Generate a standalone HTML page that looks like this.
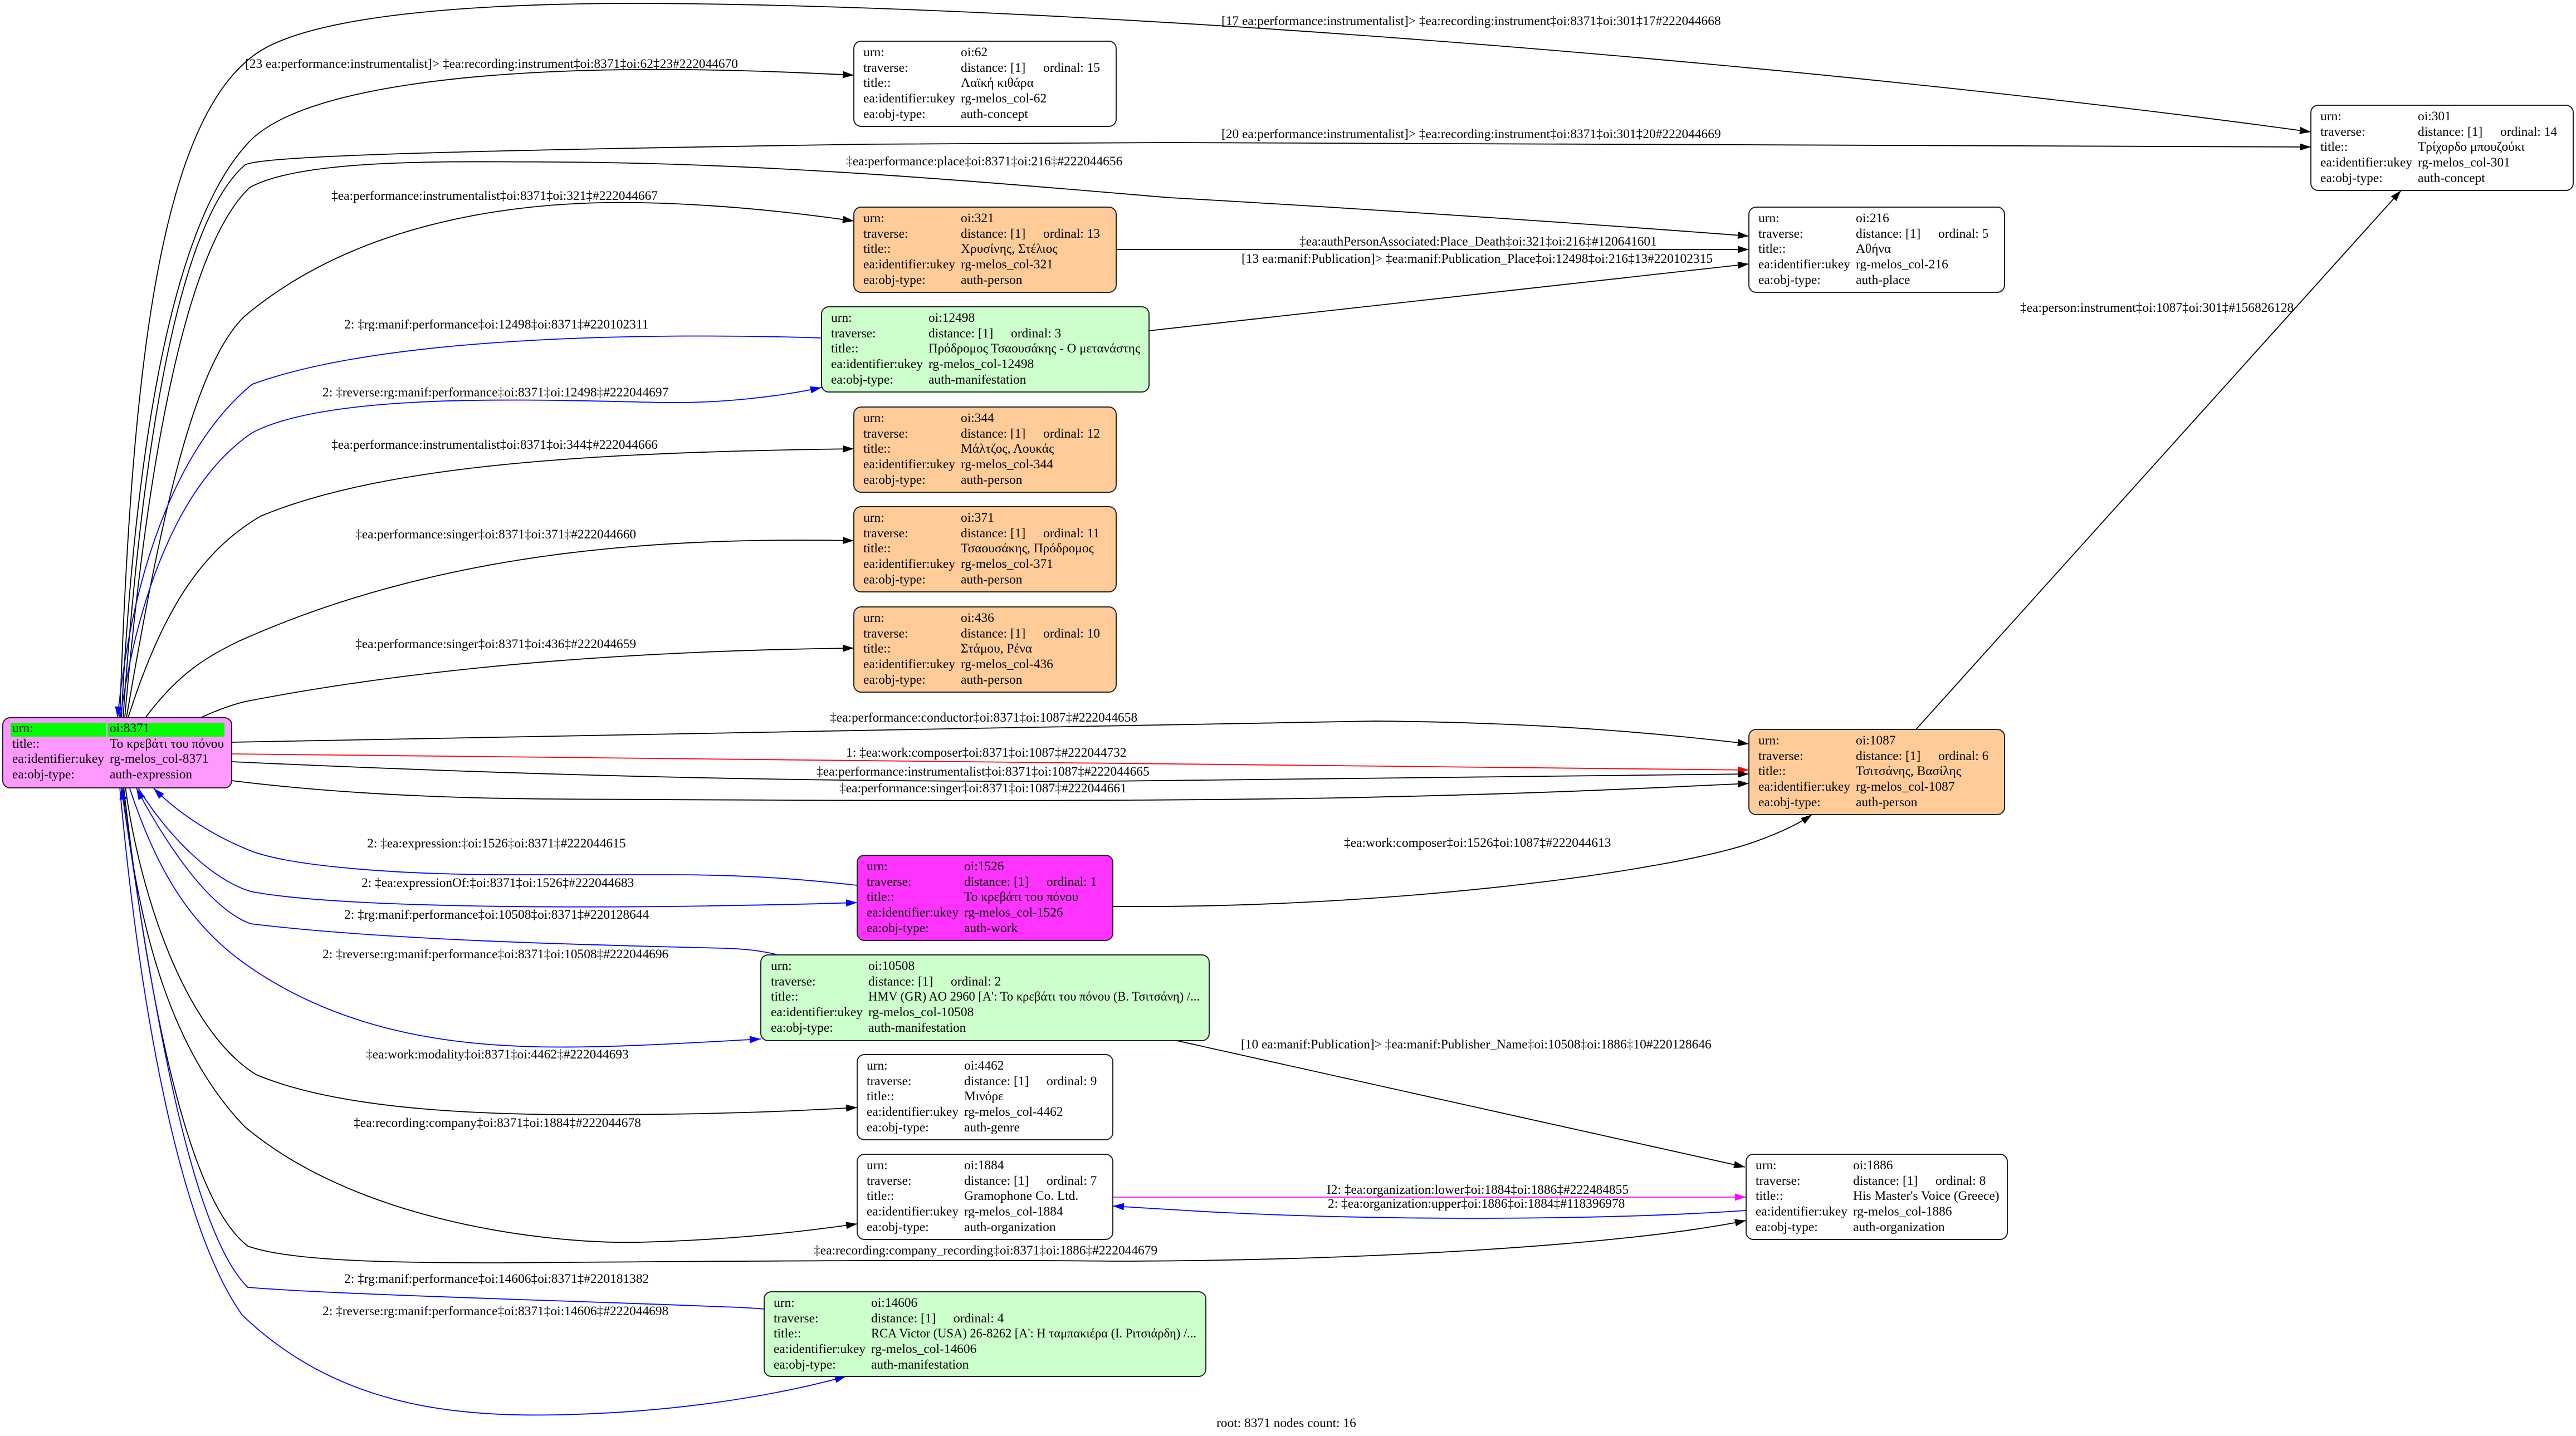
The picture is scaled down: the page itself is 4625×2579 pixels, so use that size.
<!DOCTYPE html>
<html>
<head>
<meta charset="utf-8">
<style>
html,body{margin:0;padding:0;background:#fff;}
svg{display:block;}
text{font-family:"Liberation Serif","DejaVu Serif",serif;font-size:23.4px;fill:#000;}
.e{fill:none;stroke-width:1.8;}
.k{stroke:#000;}
.b{stroke:#0000ff;}
.r{stroke:#ff0000;}
.m{stroke:#ff00ff;}
.n{stroke:#222;stroke-width:2;}
</style>
</head>
<body>
<svg width="4625" height="2579" viewBox="0 0 4625 2579" xmlns="http://www.w3.org/2000/svg">
<defs>
<marker id="ak" viewBox="0 0 20 13" refX="20" refY="6.5" markerWidth="20" markerHeight="13" markerUnits="userSpaceOnUse" orient="auto"><path d="M0,0 L20,6.5 L0,13 z" fill="#000"/></marker>
<marker id="ab" viewBox="0 0 20 13" refX="20" refY="6.5" markerWidth="20" markerHeight="13" markerUnits="userSpaceOnUse" orient="auto"><path d="M0,0 L20,6.5 L0,13 z" fill="#0000ff"/></marker>
<marker id="ar" viewBox="0 0 20 13" refX="20" refY="6.5" markerWidth="20" markerHeight="13" markerUnits="userSpaceOnUse" orient="auto"><path d="M0,0 L20,6.5 L0,13 z" fill="#ff0000"/></marker>
<marker id="am" viewBox="0 0 20 13" refX="20" refY="6.5" markerWidth="20" markerHeight="13" markerUnits="userSpaceOnUse" orient="auto"><path d="M0,0 L20,6.5 L0,13 z" fill="#ff00ff"/></marker>
</defs>
<rect x="0" y="0" width="4625" height="2579" fill="#fff"/>

<!-- ============ EDGES ============ -->
<path class="e k" marker-end="url(#ak)" d="M215 1289 C235 700, 280 230, 455 100 C560 20, 900 6, 1150 6 C2000 10, 3300 120, 4149 237"/>
<text x="2193" y="45">[17 ea:performance:instrumentalist]&gt; ‡ea:recording:instrument‡oi:8371‡oi:301‡17#222044668</text>
<path class="e k" marker-end="url(#ak)" d="M218 1289 C245 750, 320 380, 453 249 C560 150, 900 126, 1150 125 C1300 124, 1430 130, 1533 135"/>
<text x="440" y="122">[23 ea:performance:instrumentalist]&gt; ‡ea:recording:instrument‡oi:8371‡oi:62‡23#222044670</text>
<path class="e k" marker-end="url(#ak)" d="M221 1289 C255 800, 320 400, 440 296 C470 282, 700 272, 1560 259 L2100 256 L4149 264"/>
<text x="2193" y="248">[20 ea:performance:instrumentalist]&gt; ‡ea:recording:instrument‡oi:8371‡oi:301‡20#222044669</text>
<path class="e k" marker-end="url(#ak)" d="M224 1289 C262 850, 330 450, 448 337 C540 285, 800 290, 1000 291 C1400 293, 1800 330, 2100 355 C2400 372, 2800 398, 3140 424"/>
<text x="1519" y="297">‡ea:performance:place‡oi:8371‡oi:216‡#222044656</text>
<path class="e k" marker-end="url(#ak)" d="M227 1289 C285 950, 345 660, 438 569 C650 390, 950 360, 1150 364 C1300 367, 1430 382, 1533 397"/>
<text x="595" y="359">‡ea:performance:instrumentalist‡oi:8371‡oi:321‡#222044667</text>
<path class="e k" marker-end="url(#ak)" d="M2004 448 L3140 448"/>
<text x="2333" y="441">‡ea:authPersonAssociated:Place_Death‡oi:321‡oi:216‡#120641601</text>
<path class="e k" marker-end="url(#ak)" d="M2063 594 L3140 474"/>
<text x="2229" y="472">[13 ea:manif:Publication]&gt; ‡ea:manif:Publication_Place‡oi:12498‡oi:216‡13#220102315</text>
<path class="e b" marker-end="url(#ab)" d="M1475 607 C1200 598, 700 600, 453 690 C330 790, 240 1000, 211 1289"/>
<text x="618" y="590">2: ‡rg:manif:performance‡oi:12498‡oi:8371‡#220102311</text>
<path class="e b" marker-end="url(#ab)" d="M216 1289 C250 1050, 330 860, 453 777 C600 700, 1000 720, 1200 723 C1300 724, 1400 712, 1475 696"/>
<text x="579" y="712">2: ‡reverse:rg:manif:performance‡oi:8371‡oi:12498‡#222044697</text>
<path class="e k" marker-end="url(#ak)" d="M230 1289 C290 1100, 360 990, 468 927 C700 830, 1100 812, 1533 806"/>
<text x="595" y="806">‡ea:performance:instrumentalist‡oi:8371‡oi:344‡#222044666</text>
<path class="e k" marker-end="url(#ak)" d="M261 1289 C320 1210, 370 1180, 430 1151 C800 985, 1200 965, 1533 971"/>
<text x="638" y="967">‡ea:performance:singer‡oi:8371‡oi:371‡#222044660</text>
<path class="e k" marker-end="url(#ak)" d="M358 1290 C390 1275, 420 1265, 440 1260 C800 1190, 1200 1168, 1533 1164"/>
<text x="638" y="1164">‡ea:performance:singer‡oi:8371‡oi:436‡#222044659</text>
<path class="e k" marker-end="url(#ak)" d="M416 1333 C1000 1325, 1800 1305, 2470 1295 C2800 1298, 3000 1320, 3140 1336"/>
<text x="1490" y="1296">‡ea:performance:conductor‡oi:8371‡oi:1087‡#222044658</text>
<path class="e r" marker-end="url(#ar)" d="M416 1354 L3140 1383"/>
<text x="1519" y="1359">1: ‡ea:work:composer‡oi:8371‡oi:1087‡#222044732</text>
<path class="e k" marker-end="url(#ak)" d="M416 1368 C1000 1395, 1500 1405, 1990 1403 C2500 1400, 2900 1393, 3140 1390"/>
<text x="1466" y="1393">‡ea:performance:instrumentalist‡oi:8371‡oi:1087‡#222044665</text>
<path class="e k" marker-end="url(#ak)" d="M416 1402 C600 1425, 800 1434, 1000 1435 C1500 1438, 2000 1440, 2400 1433 C2800 1425, 3000 1413, 3140 1407"/>
<text x="1507" y="1423">‡ea:performance:singer‡oi:8371‡oi:1087‡#222044661</text>
<path class="e k" marker-end="url(#ak)" d="M3440 1310 L4311 342"/>
<text x="3627" y="560">‡ea:person:instrument‡oi:1087‡oi:301‡#156826128</text>
<path class="e k" marker-end="url(#ak)" d="M1998 1628 C2500 1632, 3000 1565, 3150 1512 C3200 1494, 3232 1478, 3253 1463"/>
<text x="2413" y="1521">‡ea:work:composer‡oi:1526‡oi:1087‡#222044613</text>
<path class="e b" marker-end="url(#ab)" d="M1539 1590 C1450 1580, 1350 1571, 1200 1571 L900 1571 C700 1570, 520 1555, 450 1528 C380 1500, 320 1460, 276 1416"/>
<text x="659" y="1522">2: ‡ea:expression:‡oi:1526‡oi:8371‡#222044615</text>
<path class="e b" marker-end="url(#ab)" d="M248 1415 C300 1500, 380 1580, 450 1601 C600 1630, 1000 1630, 1200 1628 C1350 1626, 1450 1624, 1539 1621"/>
<text x="649" y="1593">2: ‡ea:expressionOf:‡oi:8371‡oi:1526‡#222044683</text>
<path class="e b" marker-end="url(#ab)" d="M1402 1716 C1370 1708, 1340 1704, 1300 1703 C1100 1698, 700 1690, 450 1659 C370 1630, 290 1500, 245 1416"/>
<text x="618" y="1650">2: ‡rg:manif:performance‡oi:10508‡oi:8371‡#220128644</text>
<path class="e b" marker-end="url(#ab)" d="M232 1413 C280 1560, 340 1660, 440 1731 C650 1880, 900 1885, 1100 1879 C1200 1876, 1290 1870, 1366 1866"/>
<text x="579" y="1721">2: ‡reverse:rg:manif:performance‡oi:8371‡oi:10508‡#222044696</text>
<path class="e k" marker-end="url(#ak)" d="M225 1413 C250 1600, 330 1850, 460 1930 C650 2010, 1000 2003, 1200 2001 C1350 1999, 1450 1994, 1539 1989"/>
<text x="657" y="1901">‡ea:work:modality‡oi:8371‡oi:4462‡#222044693</text>
<path class="e k" marker-end="url(#ak)" d="M220 1413 C250 1700, 320 1900, 440 2024 C650 2200, 1000 2235, 1150 2231 C1300 2227, 1420 2215, 1539 2198"/>
<text x="635" y="2024">‡ea:recording:company‡oi:8371‡oi:1884‡#222044678</text>
<path class="e k" marker-end="url(#ak)" d="M222 1413 C260 1750, 330 2150, 445 2238 C520 2265, 700 2268, 900 2268 C1300 2265, 1700 2262, 2000 2265 C2400 2265, 2900 2240, 3135 2192"/>
<text x="1461" y="2253">‡ea:recording:company_recording‡oi:8371‡oi:1886‡#222044679</text>
<path class="e b" marker-end="url(#ab)" d="M1372 2351 C1350 2349, 1330 2348, 1300 2347 C1000 2335, 600 2325, 445 2312 C330 2200, 260 1700, 218 1416"/>
<text x="618" y="2304">2: ‡rg:manif:performance‡oi:14606‡oi:8371‡#220181382</text>
<path class="e b" marker-end="url(#ab)" d="M215 1413 C250 1800, 320 2200, 435 2362 C600 2520, 800 2545, 1000 2541 C1200 2537, 1380 2510, 1519 2472"/>
<text x="579" y="2362">2: ‡reverse:rg:manif:performance‡oi:8371‡oi:14606‡#222044698</text>
<path class="e k" marker-end="url(#ak)" d="M2113 1869 L3133 2096"/>
<text x="2228" y="1883">[10 ea:manif:Publication]&gt; ‡ea:manif:Publisher_Name‡oi:10508‡oi:1886‡10#220128646</text>
<path class="e m" marker-end="url(#am)" d="M1998 2150 L3135 2150"/>
<text x="2382" y="2144">I2: ‡ea:organization:lower‡oi:1884‡oi:1886‡#222484855</text>
<path class="e b" marker-end="url(#ab)" d="M3135 2174 C2900 2190, 2600 2190, 2400 2185 C2200 2180, 2100 2172, 1998 2166"/>
<text x="2384" y="2169">2: ‡ea:organization:upper‡oi:1886‡oi:1884‡#118396978</text>

<!-- ============ NODES ============ -->
<rect class="n" x="1533" y="74" width="471" height="153" rx="13" fill="#fff"/>
<text x="1550" y="101">urn:</text><text x="1725" y="101">oi:62</text>
<text x="1550" y="129">traverse:</text><text x="1725" y="129">distance: [1]</text><text x="1873" y="129">ordinal: 15</text>
<text x="1550" y="156">title::</text><text x="1725" y="156">Λαϊκή κιθάρα</text>
<text x="1550" y="184">ea:identifier:ukey</text><text x="1725" y="184">rg-melos_col-62</text>
<text x="1550" y="212">ea:obj-type:</text><text x="1725" y="212">auth-concept</text>

<rect class="n" x="4149" y="189" width="471" height="153" rx="13" fill="#fff"/>
<text x="4166" y="216">urn:</text><text x="4341" y="216">oi:301</text>
<text x="4166" y="244">traverse:</text><text x="4341" y="244">distance: [1]</text><text x="4489" y="244">ordinal: 14</text>
<text x="4166" y="271">title::</text><text x="4341" y="271">Τρίχορδο μπουζούκι</text>
<text x="4166" y="299">ea:identifier:ukey</text><text x="4341" y="299">rg-melos_col-301</text>
<text x="4166" y="327">ea:obj-type:</text><text x="4341" y="327">auth-concept</text>

<rect class="n" x="1533" y="372" width="471" height="153" rx="13" fill="#ffcc99"/>
<text x="1550" y="399">urn:</text><text x="1725" y="399">oi:321</text>
<text x="1550" y="427">traverse:</text><text x="1725" y="427">distance: [1]</text><text x="1873" y="427">ordinal: 13</text>
<text x="1550" y="454">title::</text><text x="1725" y="454">Χρυσίνης, Στέλιος</text>
<text x="1550" y="482">ea:identifier:ukey</text><text x="1725" y="482">rg-melos_col-321</text>
<text x="1550" y="510">ea:obj-type:</text><text x="1725" y="510">auth-person</text>

<rect class="n" x="3140" y="372" width="459" height="153" rx="13" fill="#fff"/>
<text x="3157" y="399">urn:</text><text x="3332" y="399">oi:216</text>
<text x="3157" y="427">traverse:</text><text x="3332" y="427">distance: [1]</text><text x="3480" y="427">ordinal: 5</text>
<text x="3157" y="454">title::</text><text x="3332" y="454">Αθήνα</text>
<text x="3157" y="482">ea:identifier:ukey</text><text x="3332" y="482">rg-melos_col-216</text>
<text x="3157" y="510">ea:obj-type:</text><text x="3332" y="510">auth-place</text>

<rect class="n" x="1475" y="551" width="588" height="153" rx="13" fill="#ccffcc"/>
<text x="1492" y="578">urn:</text><text x="1667" y="578">oi:12498</text>
<text x="1492" y="606">traverse:</text><text x="1667" y="606">distance: [1]</text><text x="1815" y="606">ordinal: 3</text>
<text x="1492" y="633">title::</text><text x="1667" y="633" textLength="380" lengthAdjust="spacingAndGlyphs">Πρόδρομος Τσαουσάκης - Ο μετανάστης</text>
<text x="1492" y="661">ea:identifier:ukey</text><text x="1667" y="661">rg-melos_col-12498</text>
<text x="1492" y="689">ea:obj-type:</text><text x="1667" y="689">auth-manifestation</text>

<rect class="n" x="1533" y="731" width="471" height="153" rx="13" fill="#ffcc99"/>
<text x="1550" y="758">urn:</text><text x="1725" y="758">oi:344</text>
<text x="1550" y="786">traverse:</text><text x="1725" y="786">distance: [1]</text><text x="1873" y="786">ordinal: 12</text>
<text x="1550" y="813">title::</text><text x="1725" y="813">Μάλτζος, Λουκάς</text>
<text x="1550" y="841">ea:identifier:ukey</text><text x="1725" y="841">rg-melos_col-344</text>
<text x="1550" y="869">ea:obj-type:</text><text x="1725" y="869">auth-person</text>

<rect class="n" x="1533" y="910" width="471" height="153" rx="13" fill="#ffcc99"/>
<text x="1550" y="937">urn:</text><text x="1725" y="937">oi:371</text>
<text x="1550" y="965">traverse:</text><text x="1725" y="965">distance: [1]</text><text x="1873" y="965">ordinal: 11</text>
<text x="1550" y="992">title::</text><text x="1725" y="992">Τσαουσάκης, Πρόδρομος</text>
<text x="1550" y="1020">ea:identifier:ukey</text><text x="1725" y="1020">rg-melos_col-371</text>
<text x="1550" y="1048">ea:obj-type:</text><text x="1725" y="1048">auth-person</text>

<rect class="n" x="1533" y="1090" width="471" height="153" rx="13" fill="#ffcc99"/>
<text x="1550" y="1117">urn:</text><text x="1725" y="1117">oi:436</text>
<text x="1550" y="1145">traverse:</text><text x="1725" y="1145">distance: [1]</text><text x="1873" y="1145">ordinal: 10</text>
<text x="1550" y="1172">title::</text><text x="1725" y="1172">Στάμου, Ρένα</text>
<text x="1550" y="1200">ea:identifier:ukey</text><text x="1725" y="1200">rg-melos_col-436</text>
<text x="1550" y="1228">ea:obj-type:</text><text x="1725" y="1228">auth-person</text>

<rect class="n" x="5" y="1289" width="411" height="126" rx="13" fill="#ff99ff"/>
<rect x="19" y="1298" width="171" height="25" fill="#00ff00"/>
<rect x="193" y="1298" width="210" height="25" fill="#00ff00"/>
<text x="22" y="1315">urn:</text><text x="197" y="1315">oi:8371</text>
<text x="22" y="1343">title::</text><text x="197" y="1343">Το κρεβάτι του πόνου</text>
<text x="22" y="1370">ea:identifier:ukey</text><text x="197" y="1370">rg-melos_col-8371</text>
<text x="22" y="1398">ea:obj-type:</text><text x="197" y="1398">auth-expression</text>

<rect class="n" x="3140" y="1310" width="459" height="153" rx="13" fill="#ffcc99"/>
<text x="3157" y="1337">urn:</text><text x="3332" y="1337">oi:1087</text>
<text x="3157" y="1365">traverse:</text><text x="3332" y="1365">distance: [1]</text><text x="3480" y="1365">ordinal: 6</text>
<text x="3157" y="1392">title::</text><text x="3332" y="1392">Τσιτσάνης, Βασίλης</text>
<text x="3157" y="1420">ea:identifier:ukey</text><text x="3332" y="1420">rg-melos_col-1087</text>
<text x="3157" y="1448">ea:obj-type:</text><text x="3332" y="1448">auth-person</text>

<rect class="n" x="1539" y="1536" width="459" height="153" rx="13" fill="#ff33ff"/>
<text x="1556" y="1563">urn:</text><text x="1731" y="1563">oi:1526</text>
<text x="1556" y="1591">traverse:</text><text x="1731" y="1591">distance: [1]</text><text x="1879" y="1591">ordinal: 1</text>
<text x="1556" y="1618">title::</text><text x="1731" y="1618">Το κρεβάτι του πόνου</text>
<text x="1556" y="1646">ea:identifier:ukey</text><text x="1731" y="1646">rg-melos_col-1526</text>
<text x="1556" y="1674">ea:obj-type:</text><text x="1731" y="1674">auth-work</text>

<rect class="n" x="1366" y="1715" width="805" height="154" rx="13" fill="#ccffcc"/>
<text x="1384" y="1742">urn:</text><text x="1559" y="1742">oi:10508</text>
<text x="1384" y="1770">traverse:</text><text x="1559" y="1770">distance: [1]</text><text x="1707" y="1770">ordinal: 2</text>
<text x="1384" y="1797">title::</text><text x="1559" y="1797" textLength="595" lengthAdjust="spacingAndGlyphs">HMV (GR) AO 2960 [Α': Το κρεβάτι του πόνου (Β. Τσιτσάνη) /...</text>
<text x="1384" y="1825">ea:identifier:ukey</text><text x="1559" y="1825">rg-melos_col-10508</text>
<text x="1384" y="1853">ea:obj-type:</text><text x="1559" y="1853">auth-manifestation</text>

<rect class="n" x="1539" y="1894" width="459" height="153" rx="13" fill="#fff"/>
<text x="1556" y="1921">urn:</text><text x="1731" y="1921">oi:4462</text>
<text x="1556" y="1949">traverse:</text><text x="1731" y="1949">distance: [1]</text><text x="1879" y="1949">ordinal: 9</text>
<text x="1556" y="1976">title::</text><text x="1731" y="1976">Μινόρε</text>
<text x="1556" y="2004">ea:identifier:ukey</text><text x="1731" y="2004">rg-melos_col-4462</text>
<text x="1556" y="2032">ea:obj-type:</text><text x="1731" y="2032">auth-genre</text>

<rect class="n" x="1539" y="2073" width="459" height="153" rx="13" fill="#fff"/>
<text x="1556" y="2100">urn:</text><text x="1731" y="2100">oi:1884</text>
<text x="1556" y="2128">traverse:</text><text x="1731" y="2128">distance: [1]</text><text x="1879" y="2128">ordinal: 7</text>
<text x="1556" y="2155">title::</text><text x="1731" y="2155">Gramophone Co. Ltd.</text>
<text x="1556" y="2183">ea:identifier:ukey</text><text x="1731" y="2183">rg-melos_col-1884</text>
<text x="1556" y="2211">ea:obj-type:</text><text x="1731" y="2211">auth-organization</text>

<rect class="n" x="3135" y="2073" width="469" height="153" rx="13" fill="#fff"/>
<text x="3152" y="2100">urn:</text><text x="3327" y="2100">oi:1886</text>
<text x="3152" y="2128">traverse:</text><text x="3327" y="2128">distance: [1]</text><text x="3475" y="2128">ordinal: 8</text>
<text x="3152" y="2155">title::</text><text x="3327" y="2155">His Master's Voice (Greece)</text>
<text x="3152" y="2183">ea:identifier:ukey</text><text x="3327" y="2183">rg-melos_col-1886</text>
<text x="3152" y="2211">ea:obj-type:</text><text x="3327" y="2211">auth-organization</text>

<rect class="n" x="1372" y="2320" width="793" height="152" rx="13" fill="#ccffcc"/>
<text x="1389" y="2347">urn:</text><text x="1564" y="2347">oi:14606</text>
<text x="1389" y="2375">traverse:</text><text x="1564" y="2375">distance: [1]</text><text x="1712" y="2375">ordinal: 4</text>
<text x="1389" y="2402">title::</text><text x="1564" y="2402" textLength="584" lengthAdjust="spacingAndGlyphs">RCA Victor (USA) 26-8262 [Α': Η ταμπακιέρα (Ι. Ριτσιάρδη) /...</text>
<text x="1389" y="2430">ea:identifier:ukey</text><text x="1564" y="2430">rg-melos_col-14606</text>
<text x="1389" y="2458">ea:obj-type:</text><text x="1564" y="2458">auth-manifestation</text>

<text x="2184" y="2563">root: 8371 nodes count: 16</text>
</svg>
</body>
</html>
